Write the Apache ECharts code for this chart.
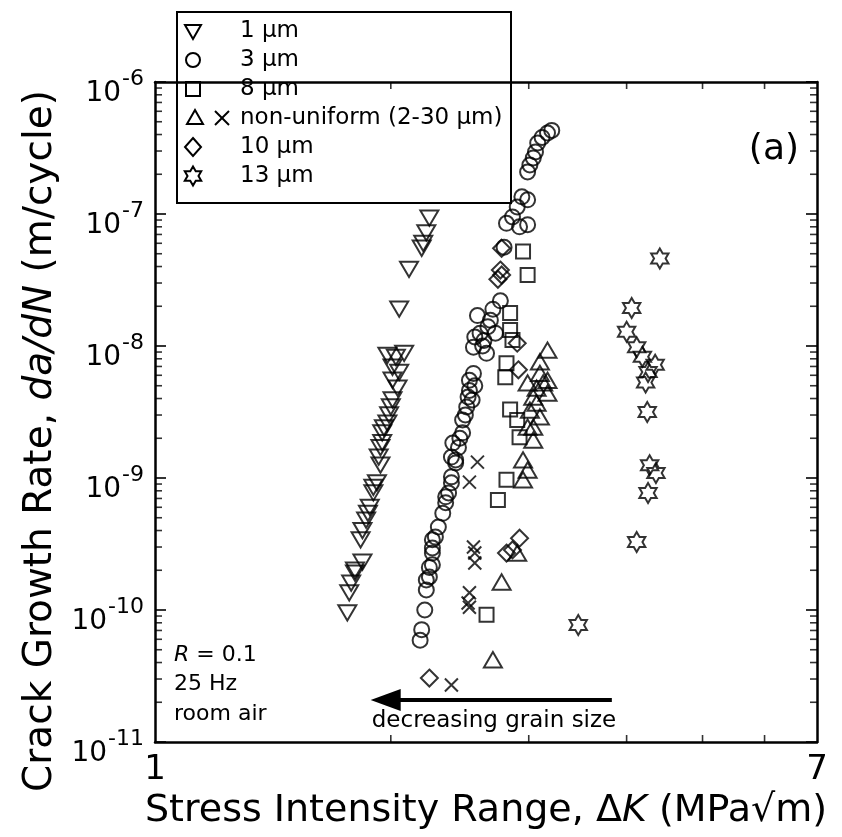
<!DOCTYPE html>
<html>
<head>
<meta charset="utf-8">
<title>Crack growth rate vs stress intensity range</title>
<script src="https://cdn.jsdelivr.net/npm/echarts@6/dist/echarts.min.js"></script>
<style>
  html, body { margin: 0; padding: 0; background: #fff; }
  #chart { width: 842px; height: 837px; }
</style>
</head>
<body>
<div id="chart"></div>
<script>
// data: [deltaK (MPa*sqrt(m)), da/dN (m/cycle)]
const grain1 = [[2.24,9.3e-8],[2.22,7.2e-8],[2.20,6.0e-8],[2.19,5.5e-8],[2.11,3.8e-8],[2.05,1.9e-8],
  [1.98,8.5e-9],[2.08,8.8e-9],[2.03,8.2e-9],[2.01,6.9e-9],[2.05,6.3e-9],[2.01,5.5e-9],[2.04,4.8e-9],
  [2.01,3.9e-9],[2.00,3.45e-9],[1.99,3.0e-9],[1.98,2.6e-9],[1.96,2.4e-9],[1.95,2.2e-9],[1.95,1.85e-9],
  [1.94,1.7e-9],[1.93,1.44e-9],[1.94,1.25e-9],[1.92,9.2e-10],[1.90,8.5e-10],[1.90,7.7e-10],[1.88,6.0e-10],
  [1.87,5.4e-10],[1.86,4.8e-10],[1.84,4.0e-10],[1.83,3.4e-10],[1.84,2.3e-10],[1.80,2.0e-10],[1.80,1.9e-10],
  [1.78,1.6e-10],[1.77,1.35e-10],[1.76,9.5e-11]];
const grain3 = [[3.21,4.3e-7],[3.17,4.1e-7],[3.12,3.8e-7],[3.08,3.45e-7],[3.06,2.95e-7],[3.04,2.66e-7],
  [3.01,2.35e-7],[2.99,2.08e-7],[2.94,1.35e-7],[2.99,1.28e-7],[2.90,1.13e-7],[2.86,9.5e-8],[2.81,8.5e-8],
  [2.92,8.0e-8],[2.99,8.3e-8],[2.79,5.6e-8],[2.76,2.2e-8],[2.70,1.9e-8],[2.58,1.7e-8],[2.68,1.57e-8],
  [2.66,1.4e-8],[2.60,1.25e-8],[2.72,1.25e-8],[2.56,1.17e-8],[2.63,1.1e-8],[2.62,1.0e-8],[2.55,9.8e-9],
  [2.65,8.8e-9],[2.55,6.2e-9],[2.56,5.0e-9],[2.52,5.5e-9],[2.52,4.6e-9],[2.51,4.1e-9],[2.54,3.9e-9],
  [2.50,3.45e-9],[2.49,3.0e-9],[2.47,2.75e-9],[2.47,2.2e-9],[2.45,2.0e-9],[2.40,1.84e-9],[2.44,1.7e-9],
  [2.39,1.44e-9],[2.42,1.37e-9],[2.42,1.3e-9],[2.39,1.02e-9],[2.39,9.2e-10],[2.37,7.7e-10],[2.35,7.2e-10],
  [2.35,6.5e-10],[2.33,5.4e-10],[2.30,4.25e-10],[2.28,3.57e-10],[2.26,3.4e-10],[2.26,2.95e-10],
  [2.26,2.7e-10],[2.26,2.2e-10],[2.24,2.1e-10],[2.24,1.78e-10],[2.22,1.69e-10],[2.22,1.42e-10],
  [2.21,1.0e-10],[2.19,7.1e-11],[2.18,5.9e-11]];
const grain8 = [[2.95,5.2e-8],[2.99,3.45e-8],[2.84,1.78e-8],[2.84,1.32e-8],[2.86,1.11e-8],[2.81,7.4e-9],
  [2.80,5.8e-9],[2.84,3.3e-9],[2.90,2.75e-9],[2.92,2.04e-9],[2.81,9.7e-10],[2.74,6.8e-10],[2.65,9.2e-11]];
const nonUniformTri = [[3.17,9.3e-9],[3.10,7.6e-9],[3.10,6.2e-9],[3.17,5.5e-9],[2.99,5.25e-9],[3.13,5.25e-9],
  [3.07,4.8e-9],[3.17,4.4e-9],[3.04,4.1e-9],[3.07,3.7e-9],[3.01,3.27e-9],[3.10,2.9e-9],[2.99,2.43e-9],
  [3.04,2.43e-9],[3.04,1.94e-9],[2.95,1.37e-9],[2.99,1.15e-9],[2.95,9.7e-10],[2.90,2.7e-10],
  [2.77,1.63e-10],[2.70,4.2e-11]];
const nonUniformX = [[2.58,1.32e-9],[2.52,9.3e-10],[2.55,3.0e-10],[2.56,2.7e-10],[2.56,2.27e-10],
  [2.52,1.35e-10],[2.51,1.13e-10],[2.52,1.05e-10],[2.39,2.7e-11]];
const grain10 = [[2.77,5.5e-8],[2.76,3.76e-8],[2.77,3.45e-8],[2.74,3.2e-8],[2.90,1.05e-8],[2.91,6.6e-9],
  [2.92,3.5e-10],[2.86,2.85e-10],[2.81,2.7e-10],[2.24,3.05e-11]];
const grain13 = [[4.41,4.6e-8],[4.06,1.94e-8],[4.00,1.28e-8],[4.12,9.8e-9],[4.19,8.3e-9],[4.35,7.2e-9],
  [4.26,6.35e-9],[4.23,5.3e-9],[4.25,3.16e-9],[4.28,1.25e-9],[4.36,1.09e-9],[4.26,7.7e-10],
  [4.12,3.27e-10],[3.47,7.7e-11]];

// axis ranges and ticks
const xRange = [1, 7];
const yRange = [1e-11, 1e-6];
const xMinorTicks = [2, 3, 4, 5, 6];
const yDecades = [-11, -10, -9, -8, -7];
const yMinorMult = [2, 3, 4, 5, 6, 7, 8, 9];

// arrow "decreasing grain size"
const arrowFrom = [3.83, 2.08e-11];
const arrowTo = [1.97, 2.08e-11];

const legendNames = ['1 μm', '3 μm', '8 μm', 'non-uniform (2-30 μm)', '10 μm', '13 μm'];

const FONT = 'DejaVu Sans';
const SYM_DOWN = 'path://M0,0L20,0L10,17Z';
const SYM_UP = 'path://M10,0L20,17L0,17Z';
const SYM_X = 'path://M0,0L10,10M10,0L0,10';
const SYM_STAR = 'path://M10,0L12.89,5L18.66,5L15.77,10L18.66,15L12.89,15L10,20L7.11,15L1.34,15L4.23,10L1.34,5L7.11,5Z';

var myChart = echarts.init(document.getElementById('chart'));

function pts(name, data, symbol, size, z) {
  return {
    name: name, type: 'scatter', data: data,
    symbol: symbol, symbolSize: size, symbolKeepAspect: true,
    itemStyle: { color: 'none', borderColor: '#000', borderWidth: 2 },
    emphasis: { disabled: true }, silent: true, clip: false, z: z || 3
  };
}

// minor tick marks (log positions), drawn inward from the frame
var bottomTicks = [], topTicks = [], leftTicks = [], rightTicks = [];
xMinorTicks.forEach(function (v) {
  bottomTicks.push([v, yRange[0]]);
  topTicks.push([v, yRange[1]]);
});
yDecades.forEach(function (d) {
  yMinorMult.forEach(function (m) {
    var v = m * Math.pow(10, d);
    leftTicks.push([xRange[0], v]);
    rightTicks.push([xRange[1], v]);
  });
});
function ticks(data, size, offset) {
  return {
    type: 'scatter', data: data, symbol: 'rect', symbolSize: size, symbolOffset: offset,
    itemStyle: { color: '#000' }, silent: true, clip: false, z: 1
  };
}

// legend drawn by hand (one row carries two symbols)
var sty = { fill: 'none', stroke: '#000', lineWidth: 2 };
function legSym(kind, cx, cy) {
  if (kind === 'down') return { type: 'polygon', shape: { points: [[cx - 8, cy - 6], [cx + 8, cy - 6], [cx, cy + 8]] }, style: sty };
  if (kind === 'up') return { type: 'polygon', shape: { points: [[cx, cy - 8], [cx + 8, cy + 6], [cx - 8, cy + 6]] }, style: sty };
  if (kind === 'circle') return { type: 'circle', shape: { cx: cx, cy: cy, r: 7 }, style: sty };
  if (kind === 'square') return { type: 'rect', shape: { x: cx - 7, y: cy - 7, width: 14, height: 14 }, style: sty };
  if (kind === 'diamond') return { type: 'polygon', shape: { points: [[cx, cy - 9], [cx + 8, cy], [cx, cy + 9], [cx - 8, cy]] }, style: sty };
  if (kind === 'x') return { type: 'group', children: [
    { type: 'line', shape: { x1: cx - 7, y1: cy - 7, x2: cx + 7, y2: cy + 7 }, style: sty },
    { type: 'line', shape: { x1: cx + 7, y1: cy - 7, x2: cx - 7, y2: cy + 7 }, style: sty }] };
  // hexagram outline
  var p = [[0,-1],[0.289,-0.5],[0.866,-0.5],[0.577,0],[0.866,0.5],[0.289,0.5],[0,1],[-0.289,0.5],[-0.866,0.5],[-0.577,0],[-0.866,-0.5],[-0.289,-0.5]];
  return { type: 'polygon', shape: { points: p.map(function (q) { return [cx + q[0] * 9.5, cy + q[1] * 9.5]; }) }, style: sty };
}
var legRows = [31, 60, 89, 118, 147, 176];
var legKinds = ['down', 'circle', 'square', 'up', 'diamond', 'star'];
var legend = [{ type: 'rect', shape: { x: 177, y: 12, width: 334, height: 191 }, style: { fill: '#fff', stroke: '#000', lineWidth: 2 } }];
legRows.forEach(function (y, i) {
  legend.push(legSym(legKinds[i], i === 3 ? 195 : 193, y));
  legend.push({ type: 'text', x: 240, y: y, style: { text: legendNames[i], font: '23px "' + FONT + '"', fill: '#000', verticalAlign: 'middle' } });
});
legend.push(legSym('x', 222, legRows[3]));

var option = {
  backgroundColor: '#fff',
  animation: false,
  textStyle: { fontFamily: FONT, color: '#000' },
  grid: { left: 155, right: 25, top: 82, bottom: 95 },
  xAxis: [
    {
      type: 'log', logBase: 7, min: xRange[0], max: xRange[1], position: 'bottom',
      axisLine: { show: true, lineStyle: { color: '#000', width: 2.5 } },
      axisTick: { show: false }, splitLine: { show: false },
      axisLabel: { fontSize: 34, color: '#000', margin: 11, fontFamily: FONT },
      name: 'Stress Intensity Range, Δ{i|K} (MPa√m)',
      nameLocation: 'middle', nameGap: 46,
      nameTextStyle: { fontSize: 38, color: '#000', fontFamily: FONT,
        rich: { i: { fontSize: 38, fontStyle: 'italic', fontFamily: FONT, color: '#000' } } }
    },
    {
      type: 'log', logBase: 7, min: xRange[0], max: xRange[1], position: 'top',
      axisLine: { show: true, lineStyle: { color: '#000', width: 2.5 } },
      axisTick: { show: false }, axisLabel: { show: false }, splitLine: { show: false }
    }
  ],
  yAxis: [
    {
      type: 'log', logBase: 10, min: yRange[0], max: yRange[1], position: 'left',
      axisLine: { show: true, lineStyle: { color: '#000', width: 2.5 } },
      axisTick: { show: true, inside: true, length: 11, lineStyle: { color: '#000', width: 1.6 } },
      splitLine: { show: false },
      axisLabel: {
        margin: 11, color: '#000',
        formatter: function (v) { return '{b|10}{s|' + Math.round(Math.log10(v)) + '}'; },
        rich: {
          b: { fontSize: 28, fontFamily: FONT, color: '#000', verticalAlign: 'bottom', padding: [24, 0, 0, 0] },
          s: { fontSize: 22, fontFamily: FONT, color: '#000', verticalAlign: 'top', padding: [12, 0, 0, 1] }
        }
      },
      name: 'Crack Growth Rate, {i|da/dN} (m/cycle)',
      nameLocation: 'middle', nameGap: 93,
      nameTextStyle: { fontSize: 39, color: '#000', fontFamily: FONT, padding: [0, 58, 0, 0],
        rich: { i: { fontSize: 39, fontStyle: 'italic', fontFamily: FONT, color: '#000' } } }
    },
    {
      type: 'log', logBase: 10, min: yRange[0], max: yRange[1], position: 'right',
      axisLine: { show: true, lineStyle: { color: '#000', width: 2.5 } },
      axisTick: { show: true, inside: true, length: 11, lineStyle: { color: '#000', width: 1.6 } },
      axisLabel: { show: false }, splitLine: { show: false }
    }
  ],
  series: [
    ticks(bottomTicks, [1.6, 7], [0, -3.5]),
    ticks(topTicks, [1.6, 7], [0, 3.5]),
    ticks(leftTicks, [7, 1.6], [3.5, 0]),
    ticks(rightTicks, [7, 1.6], [-3.5, 0]),
    pts(legendNames[0], grain1, SYM_DOWN, 18),
    pts(legendNames[1], grain3, 'circle', 15),
    pts(legendNames[2], grain8, 'rect', 14),
    pts(legendNames[3], nonUniformTri, SYM_UP, 18),
    Object.assign(pts('non-uniform ×', nonUniformX, SYM_X, 13), {
      markLine: {
        silent: true, symbol: ['none', 'triangle'], symbolSize: [22, 30],
        lineStyle: { color: '#000', width: 4, type: 'solid' }, label: { show: false },
        data: [[{ coord: arrowFrom }, { coord: arrowTo }]]
      }
    }),
    pts(legendNames[4], grain10, 'diamond', 17),
    pts(legendNames[5], grain13, SYM_STAR, 20)
  ],
  graphic: [
    { type: 'group', z: 100, children: legend },
    { type: 'text', x: 799, y: 150, z: 100, style: { text: '(a)', font: '36px "' + FONT + '"', fill: '#000', align: 'right', verticalAlign: 'middle' } },
    { type: 'text', x: 174, y: 655, z: 100, style: { text: '{i|R} = 0.1', font: '22px "' + FONT + '"', fill: '#000', verticalAlign: 'middle',
        rich: { i: { fontStyle: 'italic', fontSize: 22, fontFamily: FONT } } } },
    { type: 'text', x: 174, y: 684, z: 100, style: { text: '25 Hz', font: '22px "' + FONT + '"', fill: '#000', verticalAlign: 'middle' } },
    { type: 'text', x: 174, y: 714, z: 100, style: { text: 'room air', font: '22px "' + FONT + '"', fill: '#000', verticalAlign: 'middle' } },
    { type: 'text', x: 494, y: 721, z: 100, style: { text: 'decreasing grain size', font: '23px "' + FONT + '"', fill: '#000', align: 'center', verticalAlign: 'middle' } }
  ]
};
myChart.setOption(option);
</script>
</body>
</html>
